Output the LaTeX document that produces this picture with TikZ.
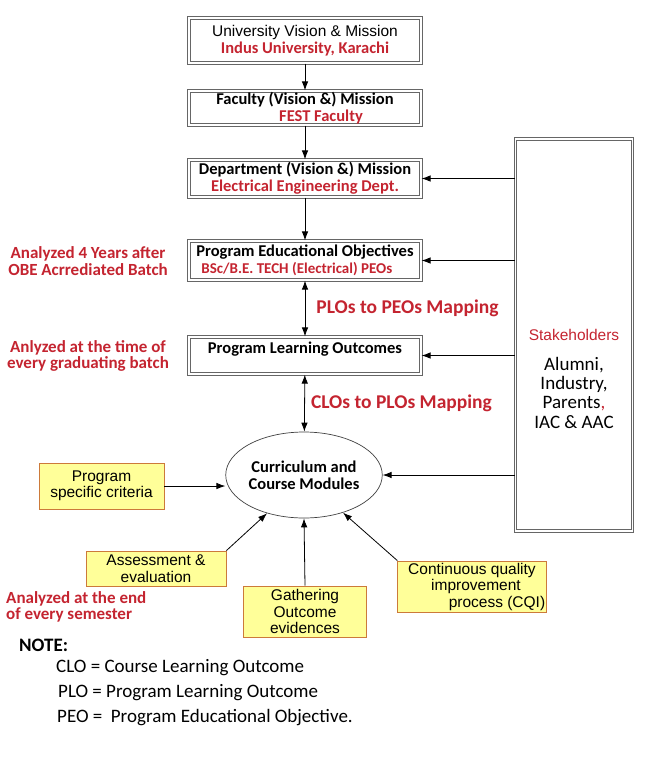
\documentclass[tikz,border=0pt]{standalone}
\usepackage{fontspec}
\setmainfont{Carlito}
\newfontfamily\arialfont{Liberation Sans}
\usetikzlibrary{shapes.geometric,arrows.meta}

\definecolor{obered}{RGB}{196,36,48}
\definecolor{critfill}{RGB}{255,255,153}
\definecolor{critedge}{RGB}{204,122,58}

\begin{document}
\begin{tikzpicture}[x=1pt, y=-1pt, >={Latex[length=9pt,width=6.5pt]},
	levelbox/.style={draw=black!60, double=white, double distance=1.1pt, line width=1.2pt,
		minimum width=232pt, inner sep=1pt, align=center, font=\bfseries\fontsize{16.5}{16.5}\selectfont},
	critbox/.style={draw=critedge, fill=critfill, line width=0.9pt, inner sep=1pt,
		align=center, font=\arialfont\fontsize{15.5}{16.5}\selectfont},
	flow/.style={->, line width=0.8pt},
	maplabel/.style={anchor=west, inner sep=0pt, text=obered, font=\bfseries\fontsize{19.5}{20}\selectfont},
	sidenote/.style={inner sep=0pt, text=obered, font=\bfseries\fontsize{17}{16.5}\selectfont}]

	\def\cx{305} % centre line of the column

	\useasboundingbox (0,0) rectangle (645,764);

	% vision and mission levels
	\node[levelbox, minimum height=45pt] (univ) at (\cx,40.5)
	{{\mdseries\arialfont\fontsize{15.5}{16}\selectfont University Vision \& Mission}\\
		\textcolor{obered}{Indus University, Karachi}};
	\node[levelbox, minimum height=34pt] (fac) at (\cx,108)
	{Faculty (Vision \&) Mission\\ \hspace*{32pt}\textcolor{obered}{FEST Faculty}};
	\node[levelbox, minimum height=37pt] (dept) at (\cx,178.5)
	{Department (Vision \&) Mission\\ \textcolor{obered}{Electrical Engineering Dept.}};

	% objectives and outcomes
	\node[levelbox, minimum height=39pt, align=left] (peo) at (\cx,260.5)
	{Program Educational Objectives\\
		\hspace*{5pt}{\fontsize{15}{15}\selectfont\textcolor{obered}{BSc/B.E. TECH (Electrical) PEOs}}};
	\node[levelbox, minimum height=37pt] (plo) at (\cx,355.5)
	{Program Learning Outcomes\\ ~};

	\node[draw=black!75, ellipse, line width=0.7pt, minimum width=122pt, minimum height=86pt, inner sep=0pt,
		align=center, font=\bfseries\fontsize{16.5}{17}\selectfont] (curr) at (304,475)
	{Curriculum and\\Course Modules};

	% stakeholders
	\node[levelbox, minimum width=117pt, minimum height=392pt] (stake) at (574,335) {};
	\node[align=center, font=\fontsize{19}{19.3}\selectfont] (stakelabel) at (574,379)
	{{\arialfont\fontsize{15.5}{16}\selectfont\textcolor{obered}{Stakeholders}}\\[10pt]
		Alumni,\\ Industry,\\ Parents\textcolor{obered}{,}\\ IAC \& AAC};

	% inputs to the curriculum
	\node[critbox, minimum width=125pt, minimum height=46pt] (psc) at (101.5,486)
	{Program\\specific criteria};
	\node[critbox, minimum width=140pt, minimum height=35pt] (assess) at (156,568.5)
	{Assessment \&\\evaluation};
	\node[critbox, minimum width=123pt, minimum height=51pt] (gather) at (\cx,611.5)
	{Gathering\\Outcome\\evidences};
	\node[critbox, minimum width=148pt, minimum height=51pt] (cqi) at (472,586.5)
	{Continuous quality\\ \hspace*{8pt}improvement\\ \hspace*{50pt}process (CQI)};

	% main chain
	\draw[flow] (univ) -- (fac);
	\draw[flow] (fac) -- (dept);
	\draw[flow] (dept) -- (peo);
	\draw[flow, <->] (peo) -- (plo)
	node[maplabel, pos=0.5, xshift=11pt] (plopeo) {PLOs to PEOs Mapping};
	\draw[flow, <->] (plo) -- (curr)
	node[maplabel, pos=0.5, xshift=6pt] (cloplo) {CLOs to PLOs Mapping};

	% feedback from stakeholders
	\draw[flow] (stake.west |- dept.east) -- (dept.east);
	\draw[flow] (stake.west |- peo.east) -- (peo.east);
	\draw[flow] (stake.west |- plo.east) -- (plo.east);
	\draw[flow] (stake.west |- curr.east) -- (curr.east);

	% inputs
	\draw[flow] (psc.east) -- (psc.east -| curr.west);
	\draw[flow] (assess.north east) -- (curr.226);
	\draw[flow] (gather.north) -- (curr.south);
	\draw[flow] (cqi.north west) -- (curr.316);

	% analysis notes
	\node[sidenote, align=center] (peonote) at (88,261)
	{Analyzed 4 Years after\\OBE Acrrediated Batch};
	\node[sidenote, align=center] (plonote) at (88,356)
	{Anlyzed at the time of\\every graduating batch};
	\node[sidenote, align=left, anchor=north west] (semnote) at (6,591)
	{Analyzed at the end\\of every semester};

	% abbreviations
	\node[anchor=west, inner sep=0pt, font=\bfseries\fontsize{19}{20}\selectfont] (note) at (19,645) {NOTE:};
	\node[anchor=west, inner sep=0pt, font=\fontsize{19}{20}\selectfont] (clo) at (56,668)
	{CLO = Course Learning Outcome};
	\node[anchor=west, inner sep=0pt, font=\fontsize{19}{20}\selectfont] (ploabbr) at (58,693)
	{PLO = Program Learning Outcome};
	\node[anchor=west, inner sep=0pt, font=\fontsize{19}{20}\selectfont] (peoabbr) at (57,718)
	{PEO = \ Program Educational Objective.};

\end{tikzpicture}
\end{document}
